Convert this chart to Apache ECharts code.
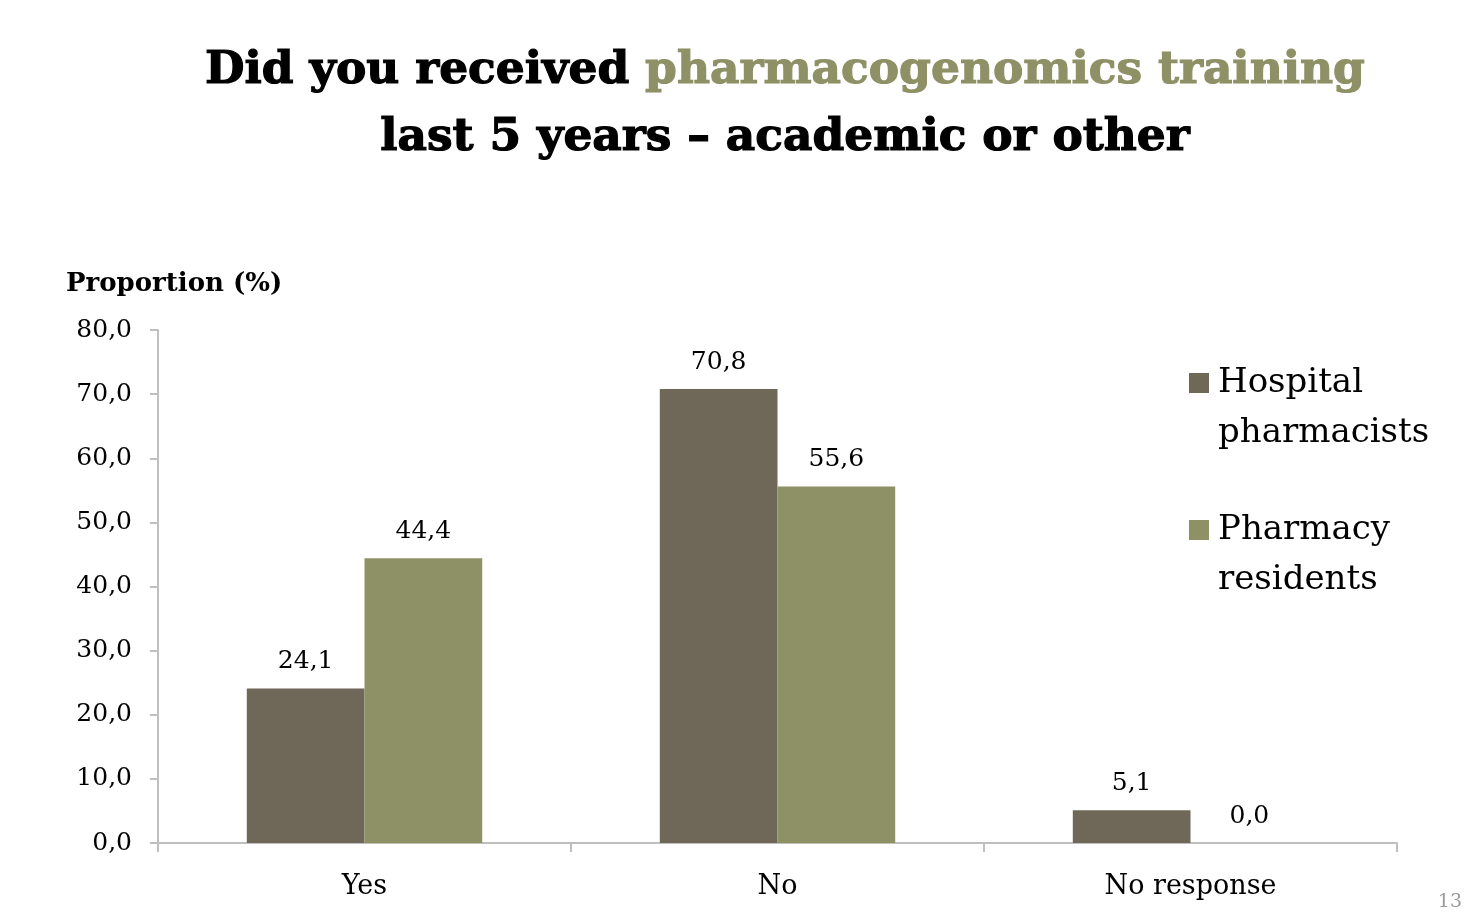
<!DOCTYPE html>
<html>
<head>
<meta charset="utf-8">
<title>Pharmacogenomics training</title>
<script src="https://cdn.jsdelivr.net/npm/echarts@6/dist/echarts.min.js"></script>
<style>
  html, body { margin: 0; padding: 0; background: #ffffff; }
  #chart { width: 1466px; height: 912px; }
</style>
</head>
<body>
<div id="chart"></div>
<script>
// Survey answers, proportion of respondents (%)
const categories = ['Yes', 'No', 'No response'];
const hospitalPharmacists = [24.1, 70.8, 5.1];
const pharmacyResidents = [44.4, 55.6, 0.0];
const seriesNames = ['Hospital\npharmacists', 'Pharmacy\nresidents'];

const FONT = '"DejaVu Serif", "Liberation Serif", serif';
const DARK = '#6f6757';
const OLIVE = '#8e9066';

const fmt = v => v.toFixed(1).replace('.', ',');

const chart = echarts.init(document.getElementById('chart'), null, { renderer: 'canvas' });

const titleStyle = (color) => ({
  fontFamily: FONT, fontWeight: 'bold', fontSize: 45.5, color: color, lineHeight: 67,
  textBorderColor: color, textBorderWidth: 1.2
});

chart.setOption({
  backgroundColor: '#ffffff',
  animation: false,
  title: {
    left: 780,
    top: 33,
    textAlign: 'center',
    text: '{a|Did you received }{b|pharmacogenomics training}\n{a|last 5 years – academic or other}',
    textStyle: {
      rich: { a: titleStyle('#000000'), b: titleStyle(OLIVE) }
    }
  },
  graphic: [
    {
      type: 'text', left: 66, top: 271,
      style: { text: 'Proportion (%)', fontFamily: FONT, fontWeight: 'bold', fontSize: 26, fill: '#000000' }
    },
    {
      type: 'text', right: 4, top: 893,
      style: { text: '13', fontFamily: FONT, fontSize: 19, fill: '#9a9a9a' }
    }
  ],
  legend: {
    orient: 'vertical',
    left: 1189,
    top: 308,
    padding: 0,
    itemWidth: 20,
    itemHeight: 20,
    itemGap: -3,
    icon: 'rect',
    // a blank leading line puts the first word level with the colour square
    formatter: name => ' \n' + name,
    textStyle: {
      fontFamily: FONT,
      fontSize: 34,
      color: '#000000',
      lineHeight: 50,
      padding: [0, 0, 0, 4]
    },
    data: seriesNames
  },
  grid: { left: 158, right: 69, top: 330, bottom: 69, containLabel: false },
  xAxis: {
    type: 'category',
    data: categories,
    axisLine: { lineStyle: { color: '#bfbfbf', width: 2 } },
    axisTick: { show: true, length: 9, lineStyle: { color: '#bfbfbf', width: 2 } },
    axisLabel: { fontFamily: FONT, fontSize: 27, color: '#000000', margin: 30 }
  },
  yAxis: {
    type: 'value',
    min: 0,
    max: 80,
    interval: 10,
    splitLine: { show: false },
    axisLine: { show: true, lineStyle: { color: '#bfbfbf', width: 2 } },
    axisTick: { show: true, length: 8, lineStyle: { color: '#bfbfbf', width: 2 } },
    axisLabel: { fontFamily: FONT, fontSize: 25, color: '#000000', margin: 26, formatter: v => fmt(v) }
  },
  series: [
    {
      name: seriesNames[0],
      type: 'bar',
      data: hospitalPharmacists,
      itemStyle: { color: DARK },
      barGap: '0%',
      barCategoryGap: '43%',
      label: { show: true, position: 'top', distance: 14, fontFamily: FONT, fontSize: 25, color: '#000000', formatter: p => fmt(p.value) }
    },
    {
      name: seriesNames[1],
      type: 'bar',
      data: pharmacyResidents,
      itemStyle: { color: OLIVE },
      barGap: '0%',
      barCategoryGap: '43%',
      label: { show: true, position: 'top', distance: 14, fontFamily: FONT, fontSize: 25, color: '#000000', formatter: p => fmt(p.value) }
    }
  ]
});
</script>
</body>
</html>
